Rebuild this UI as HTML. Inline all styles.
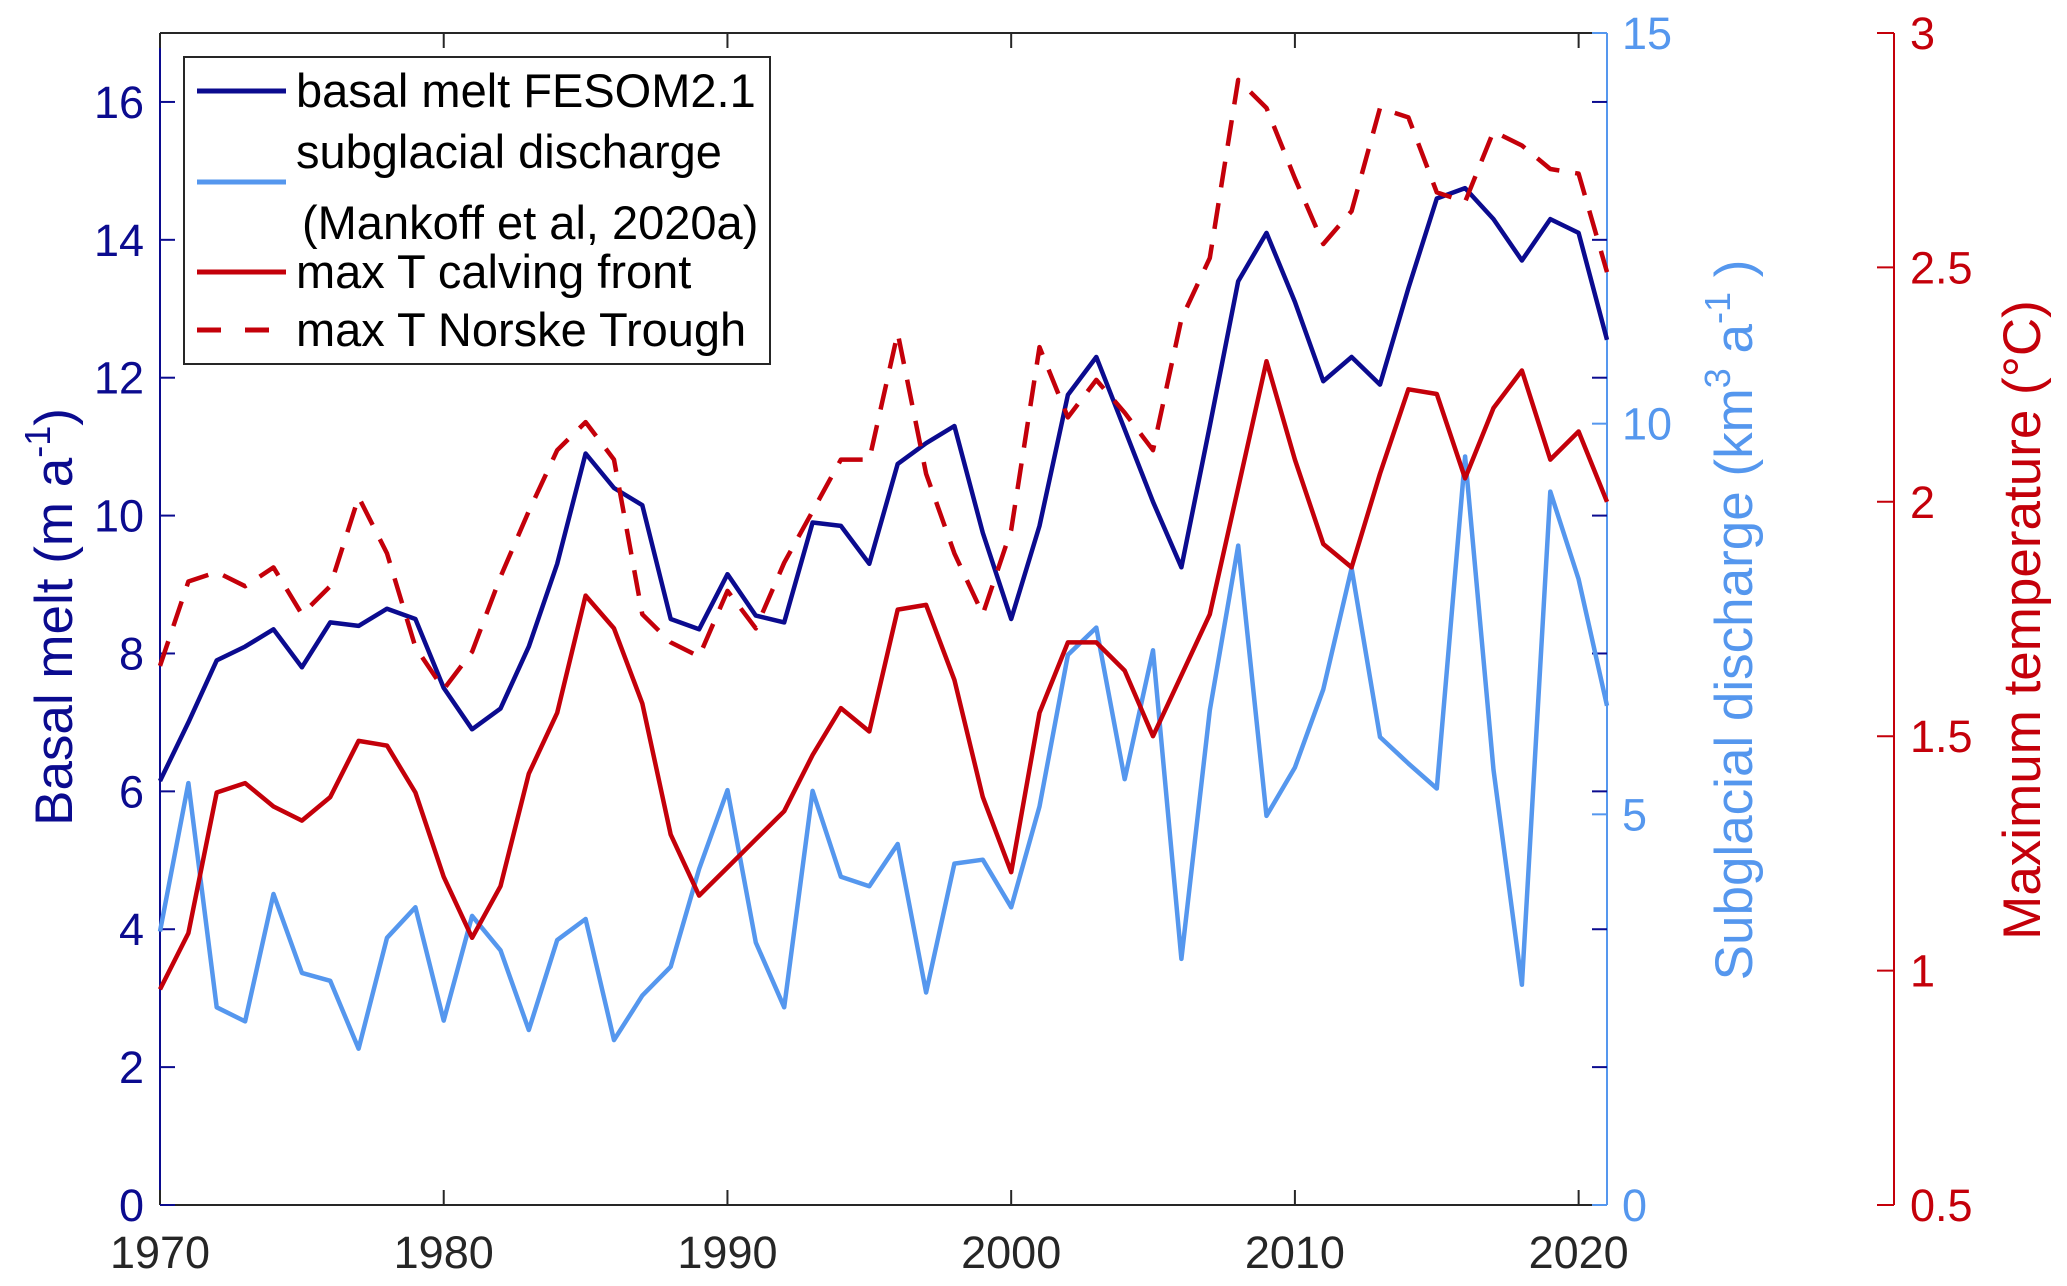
<!DOCTYPE html>
<html><head><meta charset="utf-8"><style>
html,body{margin:0;padding:0;background:#fff;}
svg{display:block;font-family:"Liberation Sans",Arial,sans-serif;}
</style></head><body>
<svg id="chart" width="2067" height="1286" viewBox="0 0 2067 1286" xmlns="http://www.w3.org/2000/svg">
<g id="plot"></g>
</svg>
<script>
const years = [];
for (let y = 1970; y <= 2021; y++) years.push(y);
const basalMelt = [6.15,7.0,7.9,8.1,8.35,7.8,8.45,8.4,8.65,8.5,7.5,6.9,7.2,8.1,9.3,10.9,10.4,10.15,8.5,8.35,9.15,8.55,8.45,9.9,9.85,9.3,10.75,11.05,11.3,9.75,8.5,9.85,11.75,12.3,11.25,10.2,9.25,11.3,13.4,14.1,13.1,11.95,12.3,11.9,13.3,14.6,14.75,14.3,13.7,14.3,14.1,12.55];
const discharge = [3.5,5.4,2.53,2.35,3.98,2.97,2.87,2.0,3.42,3.81,2.36,3.7,3.26,2.24,3.39,3.66,2.11,2.68,3.05,4.3,5.31,3.36,2.53,5.3,4.2,4.08,4.62,2.72,4.37,4.42,3.81,5.1,7.04,7.39,5.45,7.1,3.15,6.33,8.44,4.98,5.6,6.6,8.15,5.99,5.65,5.33,9.58,5.57,2.82,9.13,8.01,6.39];
const tempCalving = [0.96,1.08,1.38,1.40,1.35,1.32,1.37,1.49,1.48,1.38,1.20,1.07,1.18,1.42,1.55,1.80,1.73,1.57,1.29,1.16,1.22,1.28,1.34,1.46,1.56,1.51,1.77,1.78,1.62,1.37,1.21,1.55,1.70,1.70,1.64,1.50,1.63,1.76,2.03,2.30,2.09,1.91,1.86,2.06,2.24,2.23,2.05,2.20,2.28,2.09,2.15,2.0];
const tempNorske = [1.65,1.83,1.85,1.82,1.86,1.76,1.82,2.01,1.89,1.69,1.60,1.68,1.84,1.98,2.11,2.17,2.09,1.76,1.70,1.67,1.81,1.73,1.87,1.98,2.09,2.09,2.36,2.06,1.89,1.76,1.94,2.33,2.18,2.26,2.19,2.11,2.39,2.52,2.90,2.84,2.69,2.55,2.62,2.84,2.82,2.66,2.64,2.79,2.76,2.71,2.70,2.49];
const xTicks = [1970,1980,1990,2000,2010,2020];
const leftTicks = [0,2,4,6,8,10,12,14,16];
const blueTicks = [0,5,10,15];
const redTicks = [0.5,1,1.5,2,2.5,3];

const L=160,R=1607,T=33,B=1205,RX=1894;
const DB='#0b0b8f',LB='#5597ee',RD='#c4000a';
const x = v => L + (v-1970)/(2021-1970)*(R-L);
const yL = v => B - v/17*(B-T);
const yB = v => B - v/15*(B-T);
const yR = v => B - (v-0.5)/2.5*(B-T);
const NS='http://www.w3.org/2000/svg';
const svg=document.getElementById('chart');
function mk(tag,attrs,parent){const e=document.createElementNS(NS,tag);for(const k in attrs)e.setAttribute(k,attrs[k]);(parent||svg).appendChild(e);return e;}

let e;
e=mk('line',{x1:L,y1:B,x2:R,y2:B,stroke:'#262626','stroke-width':2});


e=mk('line',{x1:L,y1:T,x2:R,y2:T,stroke:'#262626','stroke-width':2});


e=mk('line',{x1:L,y1:T,x2:L,y2:B,stroke:DB,'stroke-width':2});


e=mk('line',{x1:R,y1:T,x2:R,y2:B,stroke:LB,'stroke-width':2});


e=mk('line',{x1:RX,y1:T,x2:RX,y2:B,stroke:RD,'stroke-width':2});



xTicks.forEach(t=>{
  mk('line',{x1:x(t),y1:B,x2:x(t),y2:B-15,stroke:'#262626','stroke-width':2});
  mk('line',{x1:x(t),y1:T,x2:x(t),y2:T+15,stroke:'#262626','stroke-width':2});
  e=mk('text',{x:x(t),y:1268,'font-size':45,'text-anchor':'middle',fill:'#262626'});
  e.textContent=t;
  
  
});
leftTicks.forEach(t=>{
  mk('line',{x1:L,y1:yL(t),x2:L+15,y2:yL(t),stroke:DB,'stroke-width':2});
  mk('line',{x1:R-15,y1:yL(t),x2:R,y2:yL(t),stroke:DB,'stroke-width':2});
  e=mk('text',{x:144,y:yL(t)+16,'font-size':45,'text-anchor':'end',fill:DB});
  e.textContent=t;
  
  
});
blueTicks.forEach(t=>{
  mk('line',{x1:R-15,y1:yB(t),x2:R,y2:yB(t),stroke:LB,'stroke-width':2});
  e=mk('text',{x:1622,y:yB(t)+16,'font-size':45,fill:LB});
  e.textContent=t;
  
  
});
redTicks.forEach(t=>{
  mk('line',{x1:RX-17,y1:yR(t),x2:RX,y2:yR(t),stroke:RD,'stroke-width':2});
  e=mk('text',{x:1910,y:yR(t)+16,'font-size':45,fill:RD});
  e.textContent=t;
  
  
});

function series(vals,fy,color,name,dash){
  const pts=vals.map((v,i)=>x(years[i]).toFixed(1)+','+fy(v).toFixed(1)).join(' ');
  const a={points:pts,fill:'none',stroke:color,'stroke-width':4.5,'stroke-linejoin':'round'};
  if(dash)a['stroke-dasharray']=dash;
  const p=mk('polyline',a);
  
  
}
series(basalMelt,yL,DB,'basal-melt-line');
series(discharge,yB,LB,'discharge-line');
series(tempCalving,yR,RD,'calving-front-temp-line');
series(tempNorske,yR,RD,'norske-trough-temp-line','26,16');

e=mk('text',{x:0,y:0,'font-size':53,'text-anchor':'middle',fill:DB,transform:'translate(72,617) rotate(-90)'});
e.innerHTML='Basal melt (m a<tspan dy="-22" font-size="36">-1</tspan><tspan dy="22">)</tspan>';


e=mk('text',{x:0,y:0,'font-size':53,'text-anchor':'middle',fill:LB,transform:'translate(1752,620) rotate(-90)'});
e.innerHTML='Subglacial discharge (km<tspan dy="-22" font-size="36">3</tspan><tspan dy="22"> a</tspan><tspan dy="-22" font-size="36">-1</tspan><tspan dy="22"> )</tspan>';


e=mk('text',{x:0,y:0,'font-size':53,'text-anchor':'middle',fill:RD,transform:'translate(2040,620) rotate(-90)'});
e.textContent='Maximum temperature (°C)';



const lg=mk('g',{});


mk('rect',{x:184,y:57,width:586,height:307,fill:'#fff',stroke:'#262626','stroke-width':2},lg);
const legendItems=[
 {y:91,ty:91,text:'basal melt FESOM2.1',c:DB,d:null,n:'legend-basal-melt'},
 {y:182,ty:152,text:'subglacial discharge',c:LB,d:null,n:'legend-discharge'},
 {y:null,ty:223,text:'(Mankoff et al, 2020a)',c:null,d:null,n:'legend-discharge-source'},
 {y:272,ty:272,text:'max T calving front',c:RD,d:null,n:'legend-calving-front'},
 {y:330,ty:330,text:'max T Norske Trough',c:RD,d:'24,24',n:'legend-norske-trough'}
];
legendItems.forEach(it=>{
  if(it.y!==null){
    const a={x1:197,y1:it.y,x2:286,y2:it.y,stroke:it.c,'stroke-width':5};
    if(it.d)a['stroke-dasharray']=it.d;
    mk('line',a,lg);
  }
  const t=mk('text',{x:it.text[0]==='('?302:296,y:it.ty+16,'font-size':47,fill:'#000'},lg);
  t.textContent=it.text;
  
  
});
</script>
</body></html>
